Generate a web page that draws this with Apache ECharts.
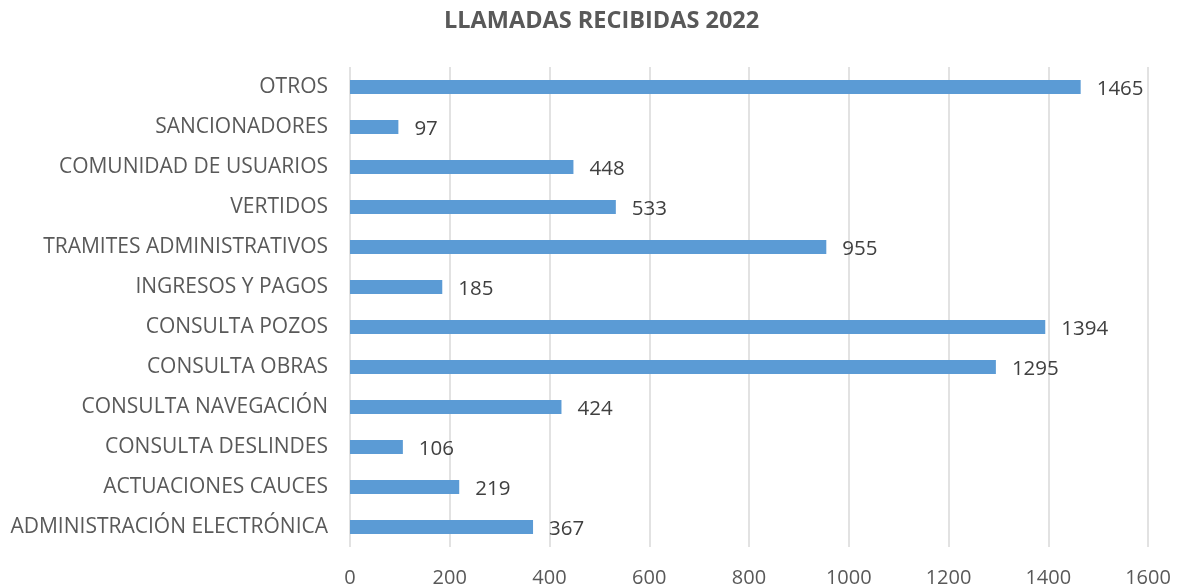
<!DOCTYPE html>
<html lang="es">
<head>
    <meta charset="UTF-8">
    <title>Llamadas recibidas 2022</title>
    <script src="https://cdn.jsdelivr.net/npm/echarts@6/dist/echarts.min.js"></script>
    <style>
        html, body { margin: 0; padding: 0; background: #fff; }
        #chart { width: 1180px; height: 588px; }
    </style>
</head>
<body>
<div id="chart"></div>
<script type="text/javascript">
    // categorias de abajo hacia arriba
    var categorias = ['ADMINISTRACIÓN ELECTRÓNICA', 'ACTUACIONES CAUCES', 'CONSULTA DESLINDES',
        'CONSULTA NAVEGACIÓN', 'CONSULTA OBRAS', 'CONSULTA POZOS', 'INGRESOS Y PAGOS',
        'TRAMITES ADMINISTRATIVOS', 'VERTIDOS', 'COMUNIDAD DE USUARIOS', 'SANCIONADORES', 'OTROS'];
    var llamadas = [367, 219, 106, 424, 1295, 1394, 185, 955, 533, 448, 97, 1465];
    var ticks = [0, 200, 400, 600, 800, 1000, 1200, 1400, 1600];

    var fuente = '"Open Sans", "Liberation Sans", sans-serif';
    var gris = '#595959';

    var chart = echarts.init(document.getElementById('chart'));
    var option = {
        animation: false,
        title: {
            text: 'LLAMADAS RECIBIDAS 2022',
            left: 439,
            top: 4,
            textStyle: { fontFamily: fuente, fontSize: 23.5, fontWeight: 'bold', color: gris }
        },
        grid: { left: 350, right: 32, top: 67, bottom: 41, containLabel: false },
        xAxis: {
            type: 'value',
            min: ticks[0],
            max: ticks[ticks.length - 1],
            interval: ticks[1] - ticks[0],
            axisLine: { show: false },
            axisTick: { show: false },
            splitLine: { lineStyle: { color: '#d9d9d9', width: 1.5 } },
            axisLabel: {
                margin: 21,
                fontFamily: fuente,
                fontSize: 20,
                color: gris,
                formatter: function (v) { return String(v); }
            }
        },
        yAxis: {
            type: 'category',
            data: categorias,
            axisLine: { show: false },
            axisTick: { show: false },
            axisLabel: { margin: 22, padding: [3, 0, 0, 0], fontFamily: fuente, fontSize: 21, color: gris }
        },
        series: [{
            type: 'bar',
            data: llamadas,
            barWidth: 14,
            itemStyle: { color: '#5b9bd5' },
            label: {
                show: true,
                position: 'right',
                distance: 16,
                offset: [0, 2],
                fontFamily: fuente,
                fontSize: 20.5,
                color: '#404040'
            }
        }]
    };
    chart.setOption(option);
</script>
</body>
</html>
